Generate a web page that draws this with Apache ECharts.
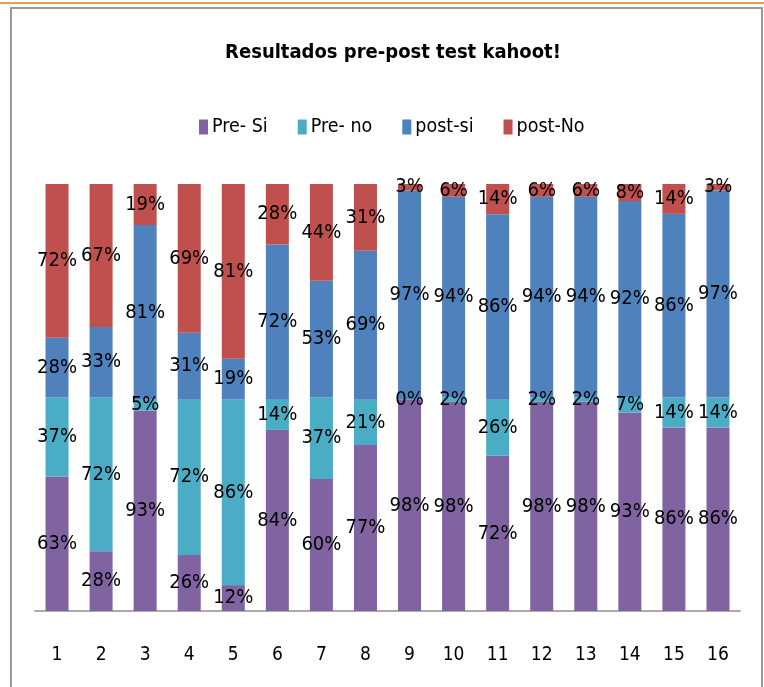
<!DOCTYPE html>
<html>
<head>
<meta charset="utf-8">
<script src="https://cdn.jsdelivr.net/npm/echarts@6/dist/echarts.min.js"></script>
<style>
  html, body { margin: 0; padding: 0; background: #ffffff; }
  #chart { width: 764px; height: 687px; }
</style>
</head>
<body>
<div id="chart"></div>
<script>
const categories = ['1','2','3','4','5','6','7','8','9','10','11','12','13','14','15','16'];
const preSi   = [63, 28, 93, 26, 12, 84, 60, 77, 98, 98, 72, 98, 98, 93, 86, 86];
const preNo   = [37, 72,  5, 72, 86, 14, 37, 21,  0,  2, 26,  2,  2,  7, 14, 14];
const postSi  = [28, 33, 81, 31, 19, 72, 53, 69, 97, 94, 86, 94, 94, 92, 86, 97];
const postNo  = [72, 67, 19, 69, 81, 28, 44, 31,  3,  6, 14,  6,  6,  8, 14,  3];
const seriesNames = ['Pre- Si', 'Pre- no', 'post-si', 'post-No'];
const colors = ['#8064A2', '#4BACC6', '#4F81BD', '#C0504D'];

const raw = [preSi, preNo, postSi, postNo];
// 100% stacked: normalize each column by its total
const totals = categories.map((_, i) => raw.reduce((s, arr) => s + arr[i], 0));
const normalized = raw.map(arr => arr.map((v, i) => v / totals[i] * 100));

const FONT = '"Liberation Sans Narrow", "DejaVu Sans Condensed", "Liberation Sans", sans-serif';

const chart = echarts.init(document.getElementById('chart'), null, { renderer: 'canvas' });
chart.setOption({
  animation: false,
  backgroundColor: '#ffffff',
  graphic: [
    { type: 'line', shape: { x1: 0, y1: 3, x2: 764, y2: 3 }, style: { stroke: '#F59A4A', lineWidth: 2 } },
    { type: 'rect', shape: { x: 11, y: 8, width: 751, height: 700 }, style: { fill: 'none', stroke: '#9a9a9a', lineWidth: 2 } }
  ],
  title: {
    text: 'Resultados pre-post test kahoot!',
    left: 388,
    textAlign: 'center',
    top: 38,
    textStyle: { fontFamily: FONT, fontSize: 20, fontWeight: 'bold', color: '#000000' }
  },
  legend: {
    data: seriesNames,
    left: 194,
    top: 112,
    itemWidth: 9,
    itemHeight: 15,
    itemGap: 30,
    icon: 'rect',
    textStyle: { fontFamily: FONT, fontSize: 19.5, color: '#000000', padding: [0, 0, 0, -1] }
  },
  grid: { left: 35, right: 24, top: 184, bottom: 76, containLabel: false },
  xAxis: {
    type: 'category',
    data: categories,
    axisLine: { show: true, lineStyle: { color: '#ababab', width: 2 } },
    axisTick: { show: false },
    axisLabel: { fontFamily: FONT, fontSize: 19, color: '#000000', margin: 35 }
  },
  yAxis: {
    type: 'value',
    min: 0,
    max: 100,
    show: false,
    splitLine: { show: false }
  },
  series: raw.map((arr, k) => ({
    name: seriesNames[k],
    type: 'bar',
    stack: 'total',
    barWidth: 23,
    data: normalized[k],
    itemStyle: { color: colors[k] },
    label: {
      show: true,
      position: 'inside',
      fontFamily: FONT,
      fontSize: 20,
      color: '#000000',
      formatter: p => raw[k][p.dataIndex] + '%'
    }
  }))
});
</script>
</body>
</html>
